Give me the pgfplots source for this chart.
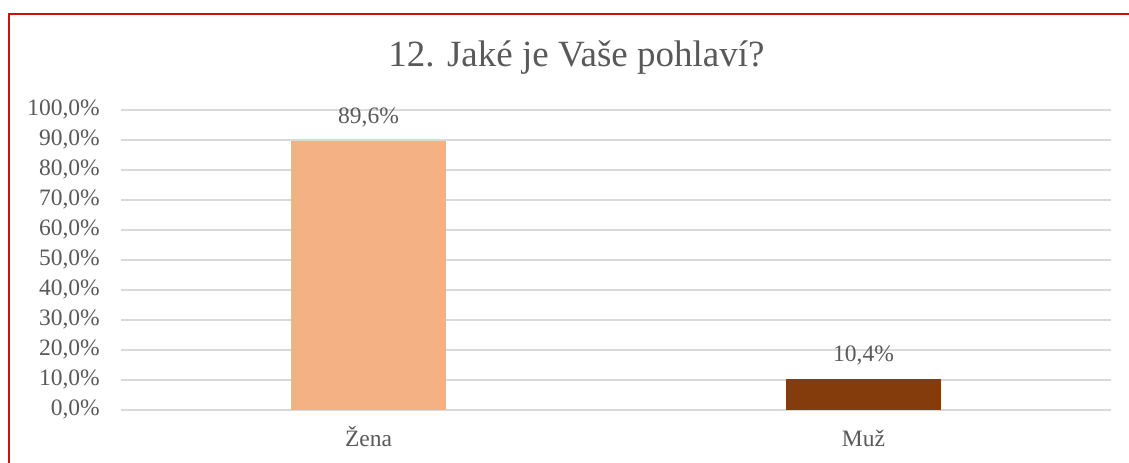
\documentclass[border=0pt]{standalone}
\usepackage{fontspec}
\setmainfont{Liberation Serif}
\usepackage{pgfplots}
\pgfplotsset{compat=1.18}
\definecolor{txt}{HTML}{595959}
\definecolor{gridc}{HTML}{D9D9D9}
\definecolor{zena}{HTML}{F4B183}
\definecolor{muz}{HTML}{843C0C}
\definecolor{framec}{HTML}{D01010}
\begin{document}
\begin{tikzpicture}[x=1bp,y=1bp]
\path[use as bounding box] (0,0) rectangle (1129,463);
\draw[framec, line width=2bp] (9,-2) -- (9,449) -- (1131,449);
\node[anchor=base, text=txt, font=\fontsize{37bp}{44bp}\selectfont\rmfamily, inner sep=0] at (576.5,396) {12. Jaké je Vaše pohlaví?};
\begin{axis}[
  at={(121bp,53bp)}, anchor=south west,
  scale only axis, width=990bp, height=300bp,
  xmin=-0.5, xmax=1.5, ymin=0, ymax=100,
  xtick={0,1}, xticklabels={Žena,Muž},
  ytick={0,10,...,100},
  yticklabels={{0,0\%},{10,0\%},{20,0\%},{30,0\%},{40,0\%},{50,0\%},{60,0\%},{70,0\%},{80,0\%},{90,0\%},{100,0\%}},
  ymajorgrids, major grid style={gridc, line width=1.5bp},
  axis line style={draw=none},
  major tick length=0pt, tick style={draw=none},
  /pgf/number format/assume math mode=true,
  xticklabel style={anchor=base, inner sep=0pt, yshift=-37bp, text=txt, font=\fontsize{23.5bp}{28bp}\selectfont},
  yticklabel style={anchor=base east, inner sep=0pt, xshift=-21bp, yshift=-6bp, text=txt, font=\fontsize{23.5bp}{28bp}\selectfont},
  clip=false,
]
\addplot[ybar, bar width=155bp, bar shift=0pt, fill=zena, draw=none,
  nodes near coords={\pgfmathprintnumber[fixed,fixed zerofill,precision=1,use comma,assume math mode=true]{\pgfplotspointmeta}\%},
  nodes near coords style={anchor=base, inner sep=0pt, yshift=17.5bp, text=txt, font=\fontsize{23.5bp}{28bp}\selectfont}]
  coordinates {(0,89.6)};
\addplot[ybar, bar width=155bp, bar shift=0pt, fill=muz, draw=none,
  nodes near coords={\pgfmathprintnumber[fixed,fixed zerofill,precision=1,use comma,assume math mode=true]{\pgfplotspointmeta}\%},
  nodes near coords style={anchor=base, inner sep=0pt, yshift=17.5bp, text=txt, font=\fontsize{23.5bp}{28bp}\selectfont}]
  coordinates {(1,10.4)};
\end{axis}
\end{tikzpicture}
\end{document}
